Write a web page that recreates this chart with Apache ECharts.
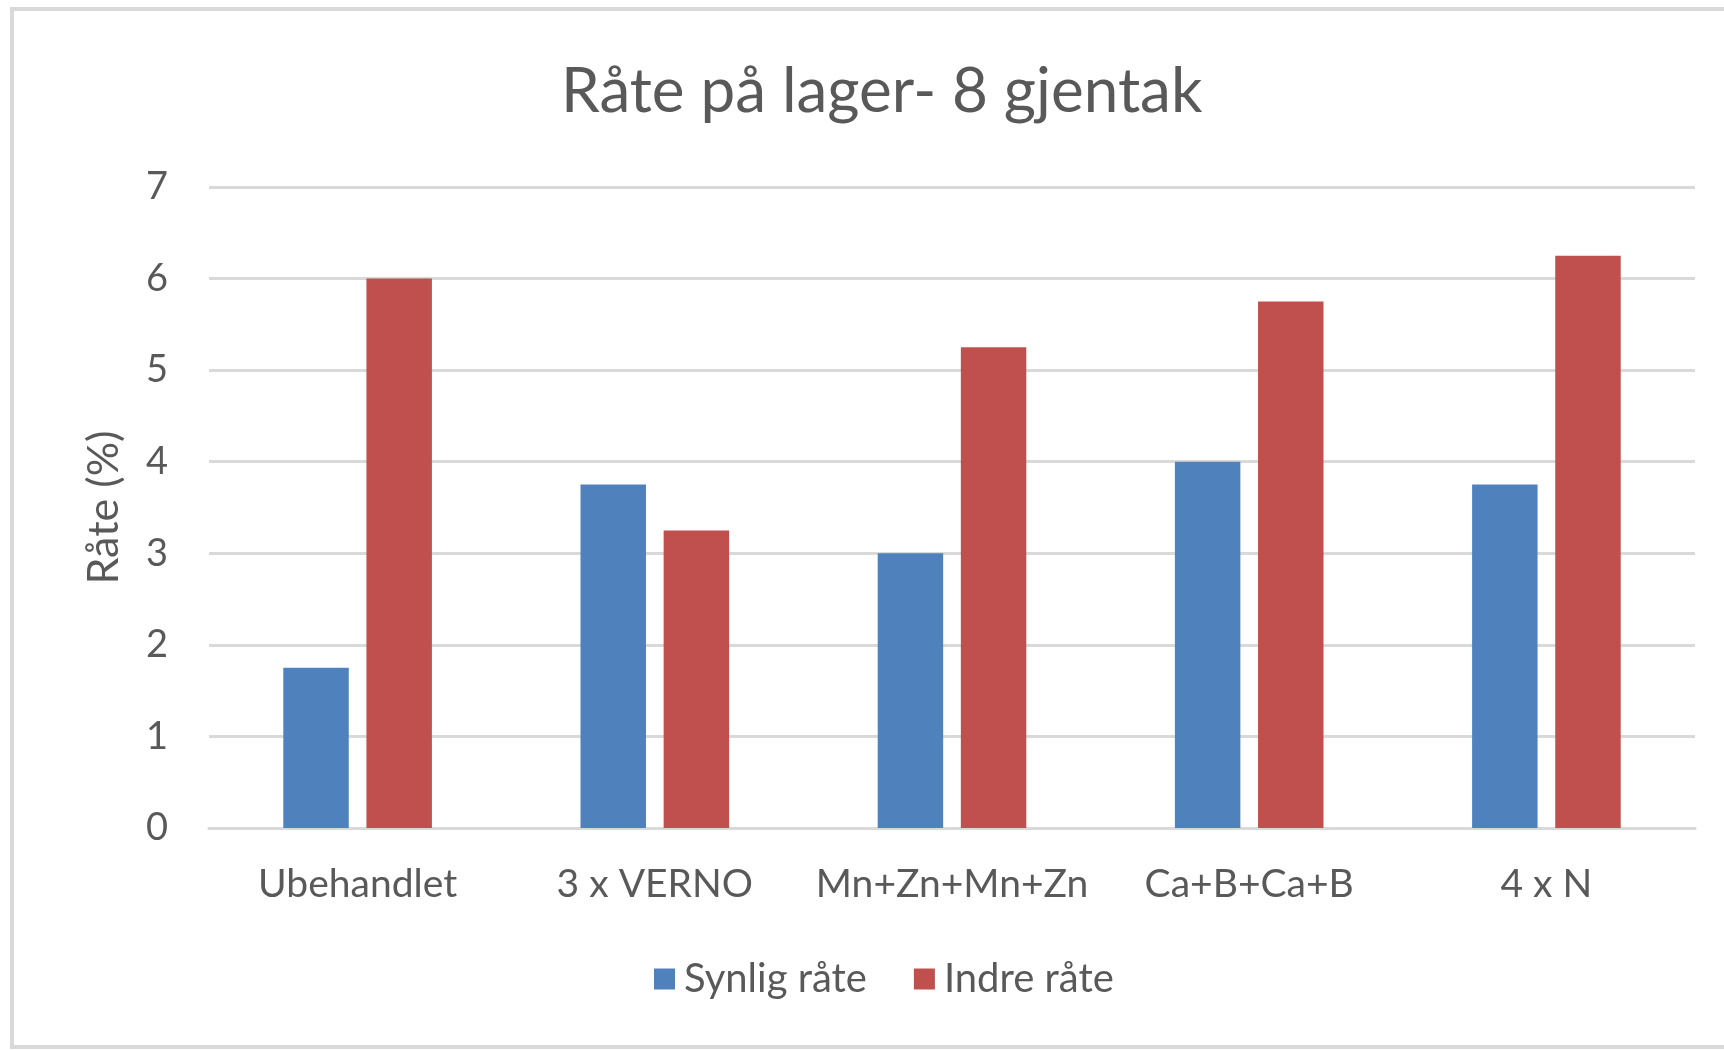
<!DOCTYPE html>
<html>
<head>
<meta charset="utf-8">
<script src="https://cdn.jsdelivr.net/npm/echarts@6/dist/echarts.min.js"></script>
<style>
  html, body { margin: 0; padding: 0; background: #fff; }
  #myChart { width: 1724px; height: 1050px; }
</style>
</head>
<body>
<div id="myChart"></div>
<script>
// kategorier og verdier lest av figuren
var categories = ['Ubehandlet', '3 x VERNO', 'Mn+Zn+Mn+Zn', 'Ca+B+Ca+B', '4 x N'];
var synligRate = [1.75, 3.75, 3.0, 4.0, 3.75];
var indreRate = [6.0, 3.25, 5.25, 5.75, 6.25];
var seriesNames = ['Synlig råte', 'Indre råte'];

var font = 'Lato';
var textColor = '#595959';

var myChart = echarts.init(document.getElementById('myChart'));
myChart.setOption({
  animation: false,
  textStyle: { fontFamily: font },
  title: {
    text: 'Råte på lager- 8 gjentak',
    left: 556,
    top: 56,
    textStyle: { fontFamily: font, fontSize: 62, fontWeight: 'normal', color: textColor }
  },
  graphic: [{
    type: 'rect',
    shape: { x: 12, y: 9, width: 1800, height: 1038 },
    style: { fill: 'none', stroke: '#D9D9D9', lineWidth: 4 },
    silent: true
  }],
  grid: { left: 209, right: 29, top: 187, bottom: 222 },
  legend: {
    data: seriesNames,
    left: 654,
    top: 959,
    padding: 0,
    itemWidth: 21,
    itemHeight: 21,
    itemGap: 47,
    icon: 'rect',
    textStyle: { fontFamily: font, fontSize: 40, color: textColor, padding: [0, 0, 0, 4] }
  },
  xAxis: {
    type: 'category',
    data: categories,
    axisTick: { show: false },
    axisLine: { lineStyle: { color: '#D9D9D9', width: 3 } },
    axisLabel: { interval: 0, fontFamily: font, fontSize: 39, color: textColor, margin: 37 }
  },
  yAxis: {
    type: 'value',
    min: 0,
    max: 7,
    interval: 1,
    name: 'Råte (%)',
    nameLocation: 'middle',
    nameGap: 83,
    nameRotate: 90,
    nameTextStyle: { fontFamily: font, fontSize: 43, color: textColor },
    axisLine: { show: false },
    axisTick: { show: false },
    axisLabel: { fontFamily: font, fontSize: 38, color: textColor, margin: 41 },
    splitLine: { lineStyle: { color: '#D9D9D9', width: 3 } }
  },
  series: [
    {
      name: seriesNames[0],
      type: 'bar',
      data: synligRate,
      itemStyle: { color: '#4F81BD' },
      barGap: '27%',
      barCategoryGap: '50%'
    },
    {
      name: seriesNames[1],
      type: 'bar',
      data: indreRate,
      itemStyle: { color: '#C0504D' },
      barGap: '27%',
      barCategoryGap: '50%'
    }
  ]
});
</script>
</body>
</html>
